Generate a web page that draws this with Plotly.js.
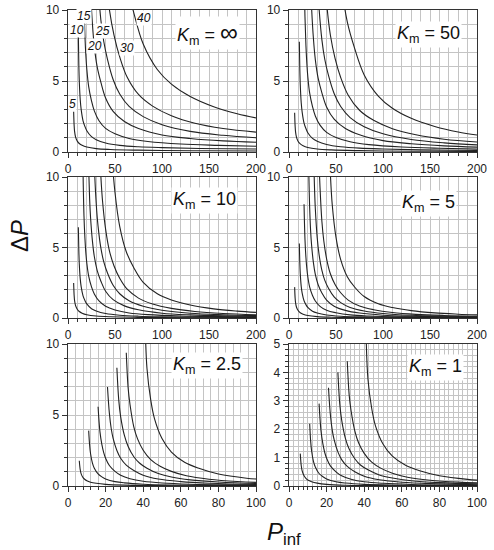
<!DOCTYPE html>
<html>
<head>
<meta charset="utf-8">
<script src="https://cdn.plot.ly/plotly-3.0.1.min.js"></script>
<style>
  html, body { margin: 0; padding: 0; background: #fff; }
  #chart { width: 494px; height: 550px; }
</style>
</head>
<body>
<div id="chart"></div>
<script>
// P_inf sample points for each curve (curves labelled 5 ... 40)
const P5  = [6, 6.5, 7, 8, 9, 10, 12, 15, 20, 30, 45, 70, 100, 150, 200]
const P10 = [11, 11.5, 12, 13, 14, 16, 18, 20, 25, 30, 40, 55, 75, 100, 140, 200]
const P15 = [16, 17, 18, 19, 20, 22, 25, 28, 33, 40, 50, 65, 85, 120, 160, 200]
const P20 = [21, 22, 23, 24, 26, 28, 31, 35, 40, 48, 60, 75, 100, 130, 165, 200]
const P25 = [26, 27, 28, 30, 32, 35, 38, 42, 48, 55, 65, 80, 100, 130, 165, 200]
const P30 = [31, 32, 33, 35, 37, 40, 44, 49, 55, 63, 75, 90, 110, 135, 165, 200]
const P40 = [41, 42, 44, 46, 50, 55, 62, 70, 80, 95, 110, 130, 155, 180, 200]

const CURVE_LABELS = ['5', '10', '15', '20', '25', '30', '40']
const KM_LABELS = ['\u221e', '50', '10', '5', '2.5', '1']

// deltaP, Km = infinity
const inf5  = [2.85, 1.9, 1.45, 1.07, 0.88, 0.75, 0.6, 0.47, 0.35, 0.24, 0.18, 0.135, 0.11, 0.085, 0.07]
const inf10 = [8.2, 6.2, 5.0, 3.7, 3.0, 2.2, 1.8, 1.5, 1.08, 0.87, 0.64, 0.47, 0.37, 0.31, 0.25, 0.21]
const inf15 = [14.5, 10.3, 8.2, 6.8, 5.85, 4.6, 3.6, 2.9, 2.2, 1.66, 1.28, 0.95, 0.74, 0.56, 0.47, 0.41]
const inf20 = [21.6, 16.4, 13.3, 11.4, 9.0, 7.42, 6.01, 4.9, 3.8, 2.86, 2.15, 1.66, 1.2, 0.95, 0.78, 0.69]
const inf25 = [30, 22.4, 18.6, 14.25, 11.7, 9.28, 7.8, 6.53, 5.11, 4.08, 3.21, 2.49, 1.92, 1.45, 1.175, 1.0]
const inf30 = [38.5, 28.9, 24.6, 18.8, 15.6, 12.6, 10.05, 8.22, 6.7, 5.26, 4.05, 3.23, 2.55, 2.02, 1.65, 1.4]
const inf40 = [60, 43.2, 32.8, 26.5, 20.0, 15.5, 12.0, 9.8, 7.6, 5.81, 4.78, 3.91, 3.19, 2.69, 2.4]

// Km = 50
const k50_5  = [2.77, 1.84, 1.4, 1.03, 0.84, 0.71, 0.57, 0.44, 0.32, 0.21, 0.147, 0.1, 0.073, 0.049, 0.035]
const k50_10 = [7.77, 5.87, 4.72, 3.47, 2.81, 2.04, 1.65, 1.36, 0.96, 0.76, 0.53, 0.37, 0.27, 0.21, 0.147, 0.105]
const k50_15 = [13.4, 9.5, 7.52, 6.21, 5.32, 4.14, 3.2, 2.54, 1.89, 1.38, 1.02, 0.72, 0.52, 0.35, 0.26, 0.205]
const k50_20 = [19.5, 14.8, 11.9, 10.2, 7.97, 6.51, 5.2, 4.17, 3.17, 2.31, 1.65, 1.21, 0.8, 0.58, 0.43, 0.345]
const k50_25 = [26.6, 19.7, 16.3, 12.4, 10.1, 7.9, 6.55, 5.39, 4.12, 3.2, 2.42, 1.78, 1.28, 0.88, 0.64, 0.5]
const k50_30 = [33.3, 24.9, 21.1, 16.0, 13.2, 10.5, 8.24, 6.6, 5.25, 4.0, 2.94, 2.23, 1.64, 1.21, 0.9, 0.7]
const k50_40 = [49.8, 35.7, 26.9, 21.5, 16.0, 12.2, 9.16, 7.26, 5.43, 3.94, 3.08, 2.37, 1.8, 1.41, 1.2]

// Km = 10
const k10_5  = [2.48, 1.63, 1.23, 0.89, 0.72, 0.6, 0.46, 0.34, 0.23, 0.137, 0.085, 0.049, 0.031, 0.018, 0.012]
const k10_10 = [6.43, 4.82, 3.85, 2.79, 2.22, 1.57, 1.24, 1.0, 0.66, 0.5, 0.32, 0.2, 0.129, 0.089, 0.056, 0.035]
const k10_15 = [10.35, 7.23, 5.66, 4.61, 3.9, 2.97, 2.21, 1.71, 1.21, 0.83, 0.57, 0.36, 0.237, 0.14, 0.094, 0.068]
const k10_20 = [14.2, 10.6, 8.45, 7.13, 5.45, 4.36, 3.38, 2.61, 1.9, 1.3, 0.86, 0.58, 0.34, 0.22, 0.15, 0.115]
const k10_25 = [18.2, 13.4, 10.9, 8.14, 6.5, 4.95, 4.0, 3.19, 2.32, 1.72, 1.22, 0.83, 0.55, 0.34, 0.23, 0.167]
const k10_30 = [21.7, 16.1, 13.5, 10.0, 8.1, 6.3, 4.78, 3.69, 2.82, 2.04, 1.41, 0.99, 0.68, 0.46, 0.32, 0.23]
const k10_40 = [29.6, 21.1, 15.6, 12.3, 8.9, 6.5, 4.7, 3.57, 2.53, 1.72, 1.28, 0.92, 0.65, 0.49, 0.4]

// Km = 5
const k5_5  = [2.19, 1.43, 1.07, 0.76, 0.61, 0.5, 0.375, 0.27, 0.175, 0.096, 0.055, 0.03, 0.018, 0.01, 0.0064]
const k5_10 = [5.29, 3.94, 3.13, 2.24, 1.76, 1.22, 0.95, 0.75, 0.48, 0.35, 0.21, 0.125, 0.078, 0.052, 0.031, 0.019]
const k5_15 = [8.06, 5.57, 4.31, 3.49, 2.93, 2.19, 1.6, 1.21, 0.83, 0.55, 0.37, 0.22, 0.14, 0.08, 0.052, 0.037]
const k5_20 = [10.5, 7.8, 6.18, 5.19, 3.91, 3.09, 2.36, 1.78, 1.27, 0.84, 0.54, 0.35, 0.2, 0.126, 0.084, 0.063]
const k5_25 = [13.0, 9.54, 7.76, 5.7, 4.5, 3.38, 2.69, 2.11, 1.5, 1.09, 0.75, 0.5, 0.32, 0.19, 0.127, 0.091]
const k5_30 = [15.1, 11.1, 9.27, 6.84, 5.48, 4.2, 3.14, 2.38, 1.79, 1.27, 0.85, 0.59, 0.39, 0.26, 0.18, 0.127]
const k5_40 = [19.7, 13.9, 10.25, 8.03, 5.72, 4.14, 2.93, 2.18, 1.52, 1.01, 0.74, 0.52, 0.36, 0.27, 0.22]

// Km = 2.5
const k25_5  = [1.78, 1.15, 0.85, 0.59, 0.46, 0.375, 0.27, 0.19, 0.117, 0.06, 0.033, 0.017, 0.01, 0.0053, 0.0033]
const k25_10 = [3.9, 2.88, 2.27, 1.61, 1.25, 0.85, 0.64, 0.5, 0.31, 0.22, 0.128, 0.072, 0.044, 0.028, 0.017, 0.01]
const k25_15 = [5.58, 3.81, 2.93, 2.35, 1.95, 1.44, 1.03, 0.76, 0.51, 0.33, 0.21, 0.126, 0.078, 0.043, 0.028, 0.02]
const k25_20 = [6.97, 5.13, 4.03, 3.35, 2.5, 1.95, 1.47, 1.09, 0.76, 0.49, 0.31, 0.196, 0.109, 0.068, 0.044, 0.033]
const k25_25 = [8.33, 6.05, 4.89, 3.56, 2.78, 2.06, 1.62, 1.25, 0.88, 0.63, 0.43, 0.28, 0.175, 0.104, 0.067, 0.048]
const k25_30 = [9.39, 6.88, 5.72, 4.17, 3.32, 2.52, 1.86, 1.39, 1.03, 0.72, 0.48, 0.32, 0.21, 0.14, 0.094, 0.067]
const k25_40 = [11.8, 8.29, 6.07, 4.74, 3.34, 2.39, 1.67, 1.23, 0.84, 0.55, 0.4, 0.28, 0.19, 0.14, 0.114]

// Km = 1
const k1_5  = [1.14, 0.72, 0.53, 0.36, 0.27, 0.21, 0.15, 0.1, 0.058, 0.028, 0.015, 0.0073, 0.0042, 0.0022, 0.0014]
const k1_10 = [2.19, 1.6, 1.25, 0.87, 0.67, 0.44, 0.33, 0.25, 0.149, 0.103, 0.058, 0.032, 0.019, 0.012, 0.007, 0.004]
const k1_15 = [2.9, 1.96, 1.49, 1.18, 0.98, 0.71, 0.5, 0.36, 0.24, 0.15, 0.095, 0.055, 0.033, 0.018, 0.011, 0.008]
const k1_20 = [3.46, 2.52, 1.97, 1.63, 1.2, 0.93, 0.69, 0.5, 0.345, 0.22, 0.134, 0.084, 0.046, 0.028, 0.018, 0.0135]
const k1_25 = [4.0, 2.89, 2.33, 1.68, 1.3, 0.96, 0.74, 0.57, 0.39, 0.28, 0.186, 0.119, 0.074, 0.043, 0.028, 0.0196]
const k1_30 = [4.39, 3.21, 2.66, 1.94, 1.52, 1.15, 0.84, 0.62, 0.45, 0.31, 0.205, 0.138, 0.09, 0.058, 0.039, 0.027]
const k1_40 = [5.33, 3.76, 2.73, 2.12, 1.48, 1.05, 0.73, 0.53, 0.36, 0.235, 0.168, 0.116, 0.08, 0.058, 0.047]

// label positions for the curves of the first panel, in data units
const label_x = [5.3, 9.6, 17, 27.7, 36.2, 62.8, 80.9]
const label_y = [3.38, 8.59, 9.58, 7.46, 8.52, 7.32, 9.44]

const FONT = '"Liberation Sans", Arial, sans-serif'
const INK = '#222'
const AXIS = '#333'
const GRID = '#c4c4c4'

const pinf = [P5, P10, P15, P20, P25, P30, P40]

const panels = [
  {ys: [inf5, inf10, inf15, inf20, inf25, inf30, inf40], xr: 200, xd: 50, xm: 10, yr: 10, yd: 5, ym: 1},
  {ys: [k50_5, k50_10, k50_15, k50_20, k50_25, k50_30, k50_40], xr: 200, xd: 50, xm: 10, yr: 10, yd: 5, ym: 1},
  {ys: [k10_5, k10_10, k10_15, k10_20, k10_25, k10_30, k10_40], xr: 200, xd: 50, xm: 10, yr: 10, yd: 5, ym: 1},
  {ys: [k5_5, k5_10, k5_15, k5_20, k5_25, k5_30, k5_40], xr: 200, xd: 50, xm: 10, yr: 10, yd: 5, ym: 1},
  {ys: [k25_5, k25_10, k25_15, k25_20, k25_25, k25_30, k25_40], xr: 100, xd: 20, xm: 4, yr: 10, yd: 5, ym: 1},
  {ys: [k1_5, k1_10, k1_15, k1_20, k1_25, k1_30, k1_40], xr: 100, xd: 20, xm: 2.5, yr: 5, yd: 1, ym: 0.2}
]

// subplot boxes in pixels of the 494 x 550 page
const col_px = [[68, 256], [289, 477]]
const row_px = [[10, 152], [177, 318], [344, 486]]
// Km label: right edge and middle, in pixels
const km_px = [[240, 33], [462, 35], [238, 200], [457, 203], [243, 365], [464, 367]]

function axis(domain, anchor, max, dtick, minor) {
  return {
    domain: domain, anchor: anchor, range: [0, max], tick0: 0, dtick: dtick,
    showline: true, mirror: true, linecolor: AXIS, linewidth: 1.3,
    ticks: 'outside', ticklen: 5, tickcolor: AXIS, tickwidth: 1,
    showgrid: true, gridcolor: GRID, gridwidth: 1, zeroline: false,
    tickfont: {family: FONT, size: 12, color: INK},
    minor: {dtick: minor, tick0: 0, ticks: 'outside', ticklen: 3, tickcolor: AXIS,
            showgrid: true, gridcolor: GRID, gridwidth: 1},
    fixedrange: true
  }
}

var data = []
var layout = {
  width: 494, height: 550,
  margin: {l: 0, r: 0, t: 0, b: 0},
  paper_bgcolor: '#fff', plot_bgcolor: '#fff',
  showlegend: false,
  font: {family: FONT, color: INK},
  annotations: []
}

for (let [p, panel] of panels.entries()) {
  let s = p == 0 ? '' : String(p + 1)
  let col = col_px[p % 2], row = row_px[Math.floor(p / 2)]
  let xdom = [col[0] / 494, col[1] / 494]
  let ydom = [1 - row[1] / 550, 1 - row[0] / 550]

  layout['xaxis' + s] = axis(xdom, 'y' + s, panel.xr, panel.xd, panel.xm)
  layout['yaxis' + s] = axis(ydom, 'x' + s, panel.yr, panel.yd, panel.ym)

  for (let [i, ys] of panel.ys.entries()) {
    data.push({
      x: pinf[i], y: ys,
      xaxis: 'x' + s, yaxis: 'y' + s,
      type: 'scatter', mode: 'lines',
      line: {color: INK, width: 1.1, shape: 'spline', smoothing: 1},
      hoverinfo: 'skip'
    })
  }

  let big = KM_LABELS[p] == '\u221e' ? '<span style="font-size:25px">\u221e</span>' : KM_LABELS[p]
  layout.annotations.push({
    xref: 'paper', yref: 'paper',
    x: km_px[p][0] / 494, y: 1 - km_px[p][1] / 550,
    xanchor: 'right', yanchor: 'middle', showarrow: false,
    text: '<i>K</i><sub>m</sub> = ' + big,
    font: {family: FONT, size: 18, color: '#111'},
    bgcolor: '#fff', borderpad: 1
  })
}

// curve labels on the Km = infinity panel
for (let [i, label] of CURVE_LABELS.entries()) {
  layout.annotations.push({
    xref: 'x', yref: 'y', x: label_x[i], y: label_y[i],
    xanchor: 'center', yanchor: 'middle', showarrow: false,
    text: '<i>' + label + '</i>',
    font: {family: FONT, size: 12, color: '#111'},
    bgcolor: '#fff', borderpad: 0
  })
}

// axis titles
layout.annotations.push({
  xref: 'paper', yref: 'paper', x: 19 / 494, y: 1 - 236 / 550,
  xanchor: 'center', yanchor: 'middle', showarrow: false, textangle: -90,
  text: '\u0394<i>P</i>', font: {family: FONT, size: 24, color: '#111'}
})
layout.annotations.push({
  xref: 'paper', yref: 'paper', x: 284 / 494, y: 1 - 533 / 550,
  xanchor: 'center', yanchor: 'middle', showarrow: false,
  text: '<i>P</i><sub>inf</sub>', font: {family: FONT, size: 24, color: '#111'}
})

Plotly.newPlot('chart', data, layout, {staticPlot: true, displayModeBar: false})
</script>
</body>
</html>
